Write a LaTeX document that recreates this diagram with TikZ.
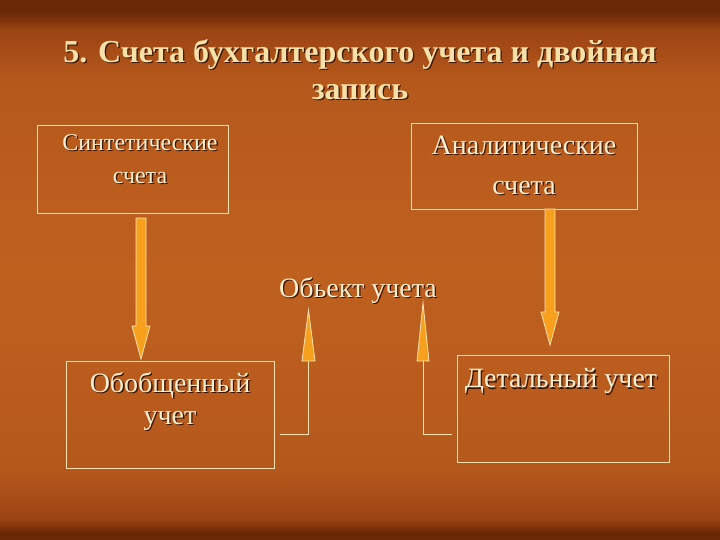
\documentclass[tikz,border=0pt]{standalone}
\usepackage{fontspec}
\setmainfont{Liberation Serif}
\usetikzlibrary{calc,positioning}

\definecolor{bgedge}{HTML}{6A2806}
\definecolor{bgnear}{HTML}{9C4414}
\definecolor{bgmain}{HTML}{B5581C}
\definecolor{bgmid}{HTML}{BE611F}
\definecolor{cream}{HTML}{FCEFD2}
\definecolor{titlec}{HTML}{F6E2A8}
\definecolor{shadowc}{HTML}{3C1404}
\definecolor{spikeor}{HTML}{F6A01E}
\definecolor{rimc}{HTML}{FBE2B0}

% the path fills the middle 25bp..75bp of the shading
\pgfdeclareverticalshading{slidebg}{100bp}{color(0bp)=(bgedge); color(25.7bp)=(bgedge); color(27bp)=(bgnear);
  color(31.5bp)=(bgmain); color(50bp)=(bgmid); color(67.6bp)=(bgmain); color(72.2bp)=(bgnear); color(73.9bp)=(bgedge); color(100bp)=(bgedge)}

% text with a soft drop shadow
\newcommand\shd[1]{\leavevmode\rlap{\color{shadowc}\kern1.3pt\raisebox{-1.3pt}{#1}}#1}

% fat orange arrow pointing down
\newcommand\fatdown[2]{%
  \filldraw[fatarr] let \p1=(#1), \p2=(#2) in
    (\x1-5pt,\y1) -- (\x1-5pt,\y2+33pt) -- (\x1-9pt,\y2+33pt) -- (\x1,\y2)
    -- (\x1+9pt,\y2+33pt) -- (\x1+5pt,\y2+33pt) -- (\x1+5pt,\y1) -- cycle;}

\begin{document}
\begin{tikzpicture}[x=1pt,y=-1pt,
    box/.style={draw=rimc, line width=0.8pt, minimum width=#1, inner sep=0pt},
    txt/.style={text=cream, align=center, inner sep=0pt},
    fatarr/.style={fill=spikeor, draw=rimc, line width=0.8pt},
    wire/.style={draw=rimc, line width=0.8pt}]
    \useasboundingbox (0,0) rectangle (720,540);
    \shade[shading=slidebg] (0,0) rectangle (720,540);

    % title
    \node[txt, text=titlec, anchor=north, font=\fontsize{32}{37}\selectfont\bfseries] (title) at (360,39)
        {\shd{5. Счета бухгалтерского учета и двойная}\\\shd{запись}};

    % boxes
    \node[box=191pt, minimum height=88pt] (synth) at (132.5,169) {};
    \node[box=226pt, minimum height=86pt] (anal) at (524,166) {};
    \node[box=208pt, minimum height=107pt] (obob) at (170,414.5) {};
    \node[box=212pt, minimum height=107pt] (detal) at (563,408.5) {};

    \node[txt, font=\fontsize{24}{33}\selectfont] (synthT) at (140,160) {\shd{Синтетические}\\\shd{счета}};
    \node[txt, font=\fontsize{28}{40}\selectfont] (analT) at (524,166) {\shd{Аналитические}\\\shd{счета}};
    \node[txt, font=\fontsize{28}{32}\selectfont] (obobT) at (170,402) {\shd{Обобщенный}\\\shd{учет}};
    \node[txt, font=\fontsize{28}{34}\selectfont] (detalT) at (561,382) {\shd{Детальный учет}};
    \node[txt, font=\fontsize{28}{34}\selectfont] (obj) at (358,291) {\shd{Обьект учета}};

    % down arrows
    \coordinate (d1top) at (141,218);
    \coordinate (d1bot) at (141,359);
    \coordinate (d2top) at (550,209);
    \coordinate (d2bot) at (550,345);
    \fatdown{d1top}{d1bot}
    \fatdown{d2top}{d2bot}

    % spikes up to the object
    \coordinate (u1) at (308.5,361);
    \coordinate (u2) at (423,361);
    \coordinate (k1) at (280,434);
    \coordinate (k2) at (452,434);
    \draw[wire] (u1) |- (k1);
    \draw[wire] (u2) |- (k2);
    \filldraw[fatarr] ($(u1)+(-6.5,0)$) -- ($(u1)+(0,-51)$) -- ($(u1)+(6.5,0)$) -- cycle;
    \filldraw[fatarr] ($(u2)+(-6,0)$) -- ($(u2)+(0,-58)$) -- ($(u2)+(6,0)$) -- cycle;
\end{tikzpicture}
\end{document}
